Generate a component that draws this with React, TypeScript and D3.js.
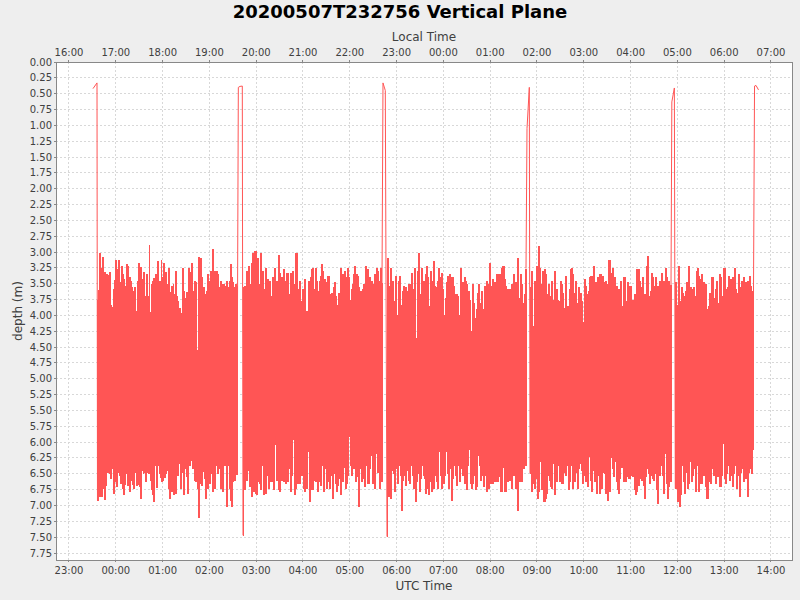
import React from 'react';
import * as d3 from 'd3';

// 화면 배치
const W = 800;
const H = 600;
const PLOT = { left: 56, top: 62, right: 792, bottom: 560 };

const TITLE = '20200507T232756 Vertical Plane';
const TIME_DOMAIN = ['2020-05-07T22:43:20Z', '2020-05-08T14:26:56Z'];
const DEPTH_MAX = 7.86;
const LOCAL_OFFSET_HOURS = -7;

// 수면 부상 구간 (시간, 수심)
const surface1: [string, number][] = [['2020-05-07T23:30:46Z', 0.42], ['2020-05-07T23:35:54Z', 0.33]];
const surface2: [string, number][] = [['2020-05-08T02:37:06Z', 0.4], ['2020-05-08T02:39:14Z', 0.385], ['2020-05-08T02:42:11Z', 0.38]];
const surface3: [string, number][] = [['2020-05-08T05:42:34Z', 0.33], ['2020-05-08T05:45:31Z', 0.45]];
const surface4: [string, number][] = [['2020-05-08T08:47:12Z', 1.05], ['2020-05-08T08:50:10Z', 0.4]];
const surface5: [string, number][] = [['2020-05-08T11:52:53Z', 0.63], ['2020-05-08T11:56:07Z', 0.41]];
const surface6: [string, number][] = [['2020-05-08T13:38:54Z', 0.38], ['2020-05-08T13:40:48Z', 0.37], ['2020-05-08T13:44:00Z', 0.44]];

// 잠수 구간 시작/끝
const diveStart = ['2020-05-07T23:36:30Z', '2020-05-08T02:43:05Z', '2020-05-08T05:47:42Z', '2020-05-08T08:51:02Z', '2020-05-08T11:57:18Z'];
const diveEnd = ['2020-05-08T02:36:02Z', '2020-05-08T05:41:17Z', '2020-05-08T08:45:55Z', '2020-05-08T11:51:49Z', '2020-05-08T13:37:36Z'];

// 각 잠수 사이클의 최저점(깊은 쪽)과 최고점(얕은 쪽)
const dive1Bottoms = [6.92,6.75,6.86,6.44,6.86,6.54,6.73,6.90,6.68,6.48,5.78,6.49,6.57,6.41,6.03,6.81,6.54,6.62,6.70,6.48,6.52,6.65,6.48,6.73,6.83,6.67,5.53,6.49,6.68,6.41,6.77,6.60,6.67,6.73,6.47,5.97,6.68,6.67,6.35,6.69,6.89,6.44,6.49,6.48,6.62,6.48,6.39,6.49,6.36,6.60,6.74,6.83,6.94,6.36,6.72,6.31,6.36,6.49,6.56,6.61,6.60,6.36,6.56,6.49,6.44,6.73,6.89,6.65,6.78,6.31,6.82,5.99,6.81,6.40,6.52,6.33,6.73,6.47,6.33,6.82,6.36,6.41,6.54,6.81,6.31,6.36,6.28,6.41,6.28,6.60,6.62,6.04,6.73,7.18,6.65,6.49,6.68,6.46,6.57,6.88,6.36,6.73,6.41,6.65,6.49,6.18,6.78,6.15,6.73,6.36,6.49,6.31,6.41,6.73,6.09,6.78,6.36,5.91,6.36,7.02,6.36,6.73,6.92,7.02,6.62,6.44,6.60,6.33,6.51,6.24];
const dive1Tops = [3.77,3.61,3.03,3.26,3.09,3.36,3.32,3.77,3.35,3.68,3.37,3.32,3.85,3.88,3.60,3.45,3.13,3.44,3.28,3.14,3.49,3.63,3.23,3.36,3.44,3.55,3.20,3.23,3.78,3.40,3.47,3.57,3.86,3.63,3.57,3.94,3.47,3.18,3.60,3.25,3.55,3.44,3.32,3.70,3.72,3.36,3.70,2.90,3.95,3.52,3.47,3.42,3.44,3.36,3.56,3.15,3.70,3.47,3.13,3.40,3.19,3.57,3.32,3.68,3.52,3.26,3.85,3.64,3.55,3.51,3.68,3.31,3.70,3.78,4.00,3.89,4.34,3.98,3.26,3.63,3.73,3.64,3.65,3.26,3.73,3.32,3.19,3.63,3.94,3.47,3.49,4.55,3.09,3.47,3.10,3.41,3.60,3.57,3.68,3.76,3.63,3.35,3.47,3.31,3.60,2.97,3.86,3.31,3.84,3.31,3.36,3.57,3.60,3.47,3.52,3.52,3.55,3.57,3.47,3.57,3.73,3.47,3.20,3.40,3.49,3.57,3.52,3.55,3.86];

const dive2Bottoms = [7.47,6.75,6.33,6.60,6.44,6.70,6.47,6.86,6.78,6.36,6.81,6.83,6.62,6.65,6.75,6.36,6.82,6.65,6.81,6.52,6.73,6.33,6.62,6.44,6.75,6.04,6.60,6.52,6.75,6.78,6.60,6.35,6.62,6.65,6.61,6.62,6.41,6.78,6.52,5.95,6.83,6.73,6.52,6.65,6.65,5.39,6.52,6.73,6.78,6.62,6.73,6.15,6.94,6.49,6.75,6.60,6.47,6.61,6.78,6.20,6.62,6.68,6.37,6.78,6.41,6.73,6.62,6.47,6.73,6.52,6.89,6.49,6.65,6.78,6.68,6.57,6.83,6.36,6.62,6.39,6.73,6.65,6.52,5.91,6.36,6.52,6.41,6.36,6.61,6.54,7.02,6.36,6.41,6.62,6.57,6.70,6.36,6.65,6.65,6.41,6.20,6.65,6.36,6.73,6.18,6.47,6.33,6.73,6.62];
const dive2Tops = [3.57,3.55,3.31,3.78,3.23,3.52,3.19,3.02,3.36,2.99,3.32,3.11,3.52,3.02,3.49,3.31,3.60,3.26,3.47,3.44,3.47,3.81,3.70,3.41,3.26,3.55,3.47,3.06,3.34,3.84,3.41,3.28,3.47,3.52,3.34,3.81,3.67,3.34,3.31,3.94,3.52,3.02,3.60,3.60,3.47,3.78,3.60,3.78,3.44,3.94,4.44,3.47,3.41,3.28,3.26,3.60,3.26,3.47,3.63,3.47,3.39,3.20,3.31,3.44,3.49,3.97,3.39,3.68,3.70,3.65,3.57,3.49,3.70,3.84,3.65,3.97,3.26,3.36,3.89,3.31,3.41,3.26,3.41,3.76,3.60,3.52,3.36,3.23,3.36,3.39,3.57,3.63,3.63,3.60,3.52,3.23,3.68,3.28,3.41,4.12,3.47,3.52,3.36,3.63,3.26,3.31,3.47,3.26,3.49];

const dive3Bottoms = [7.49,6.86,6.68,6.89,6.44,6.49,6.78,6.41,6.65,6.36,6.52,7.07,6.60,6.52,6.68,6.44,6.60,6.65,6.36,6.52,6.73,6.94,6.62,6.49,6.78,6.57,6.36,6.52,6.57,6.81,6.73,6.83,6.62,6.78,6.39,6.73,6.52,6.62,6.73,6.15,6.52,6.73,6.65,6.52,6.15,6.49,6.73,6.41,6.91,6.57,6.36,6.52,6.68,6.36,6.62,6.41,6.52,6.44,6.65,6.75,6.36,6.12,6.65,6.73,6.65,6.52,6.75,6.70,6.20,6.36,6.60,6.52,6.70,6.52,6.78,6.57,6.73,6.65,6.41,6.65,6.62,6.47,6.62,6.54,6.44,6.78,6.39,6.04,6.78,6.52,6.62,6.60,6.47,6.73,6.52,6.36,6.73,7.07,6.52,6.62,6.62,6.41,6.41,6.36];
const dive3Tops = [3.10,3.55,3.26,3.60,3.47,3.78,3.39,4.00,3.47,3.39,3.84,3.63,3.55,3.57,3.94,3.63,3.52,3.91,3.34,3.60,3.26,4.36,3.31,3.02,3.68,3.26,3.78,3.47,3.36,3.23,3.41,3.86,3.31,3.47,3.15,3.55,3.57,3.47,3.26,3.41,3.34,3.60,4.00,3.73,3.49,3.39,3.36,3.52,3.41,3.55,3.97,3.68,3.70,4.00,3.26,3.52,3.49,3.41,3.47,3.52,3.63,3.76,4.26,3.52,3.81,4.05,3.91,3.65,3.52,3.81,3.63,3.91,3.55,3.70,3.47,3.52,3.18,3.55,3.44,3.63,3.49,3.36,3.73,3.36,3.57,3.26,3.23,3.44,3.55,3.60,4.00,3.60,3.52,3.60,3.36,3.49,3.81,3.10,3.73,3.36,3.52,3.81,3.68,3.26,3.68];

const dive4Bottoms = [6.49,6.78,6.65,6.52,6.73,6.57,6.89,6.78,6.31,6.75,6.62,6.94,6.89,6.81,6.52,6.60,6.70,6.73,6.33,6.83,6.49,6.62,6.36,6.62,6.52,6.65,6.47,6.20,6.52,6.36,6.75,6.62,6.36,6.73,6.41,6.62,6.47,6.73,6.41,6.33,6.44,6.65,6.52,6.62,6.57,6.70,6.23,6.60,6.78,6.44,6.62,6.49,6.81,6.52,6.81,6.49,6.73,6.47,6.49,6.81,6.91,6.33,6.78,6.24,6.41,6.54,6.31,6.62,6.75,6.81,6.57,6.39,6.26,6.62,6.62,5.99,6.54,6.57,6.31,6.52,6.54,6.75,6.83,6.78,6.68,6.57,6.41,6.60,6.68,6.89,6.54,6.41,6.49,6.65,6.52,6.57,6.60,6.49,6.75,6.97,6.47,6.52,6.36,6.52,6.81,6.18,6.65,6.89,6.70,6.62];
const dive4Tops = [3.57,3.31,4.18,3.47,3.52,3.23,2.91,3.26,3.52,3.31,3.47,3.28,3.36,3.68,3.52,3.70,3.47,3.78,3.76,3.31,3.60,3.76,3.78,3.47,3.52,3.65,3.89,3.39,4.65,3.86,3.60,3.28,3.26,3.36,3.65,3.47,3.81,3.57,3.65,3.65,3.78,4.12,3.44,3.55,3.68,3.63,3.40,3.39,3.52,3.23,3.49,3.49,3.41,3.68,3.36,3.55,3.39,3.49,3.47,3.63,3.52,3.13,3.34,3.81,3.26,3.41,3.65,3.55,3.60,3.65,3.47,3.86,3.40,3.41,3.78,3.49,3.55,4.00,3.55,3.76,4.12,3.68,3.28,3.57,3.28,3.47,3.57,3.41,3.68,3.68,3.23,3.07,3.70,3.63,3.34,3.41,3.55,3.41,3.91,3.55,3.47,3.49,3.34,3.47,3.70,3.26,3.41,3.47,3.70,3.52];

const dive5Bottoms = [6.73,6.24,6.94,7.02,6.83,6.36,6.62,6.81,6.47,6.73,6.65,6.31,6.62,6.52,6.41,6.78,6.36,6.78,6.41,6.65,6.15,6.52,6.70,6.89,6.89,6.62,6.65,6.41,6.52,6.44,6.65,6.54,6.41,6.70,6.52,6.02,6.57,6.65,6.49,6.36,6.60,6.52,6.70,6.49,6.36,6.73,6.52,6.86,6.47,6.41,6.62,6.26,6.57,6.86,6.47,6.41,6.49,6.12];
const dive5Tops = [3.49,3.84,3.23,3.78,3.57,3.65,3.70,3.63,3.49,3.23,4.00,3.57,3.60,3.57,3.70,3.31,3.26,3.39,3.44,3.36,3.49,3.65,3.52,3.91,3.86,3.65,3.41,3.41,3.73,3.60,3.47,3.81,3.36,3.41,3.70,3.26,3.26,3.60,3.57,3.39,3.44,4.18,3.41,3.26,3.60,3.65,3.36,3.57,3.47,3.81,3.41,3.49,3.49,3.47,3.39,3.55,3.63,3.52];

const diveBottoms = [dive1Bottoms, dive2Bottoms, dive3Bottoms, dive4Bottoms, dive5Bottoms];
const diveTops = [dive1Tops, dive2Tops, dive3Tops, dive4Tops, dive5Tops];
const surfaces = [surface1, surface2, surface3, surface4, surface5, surface6];

const LINE_COLOR = '#ff5555';
const FONT = '"DejaVu Sans", Verdana, sans-serif';

type Pt = [number, number];

// 잠수 구간: 깊은 점, 얕은 점을 번갈아 배치
const divePoints = (k: number): Pt[] => {
  const bots = diveBottoms[k];
  const tops = diveTops[k];
  const n = Math.min(bots.length, tops.length);
  const t0 = +new Date(diveStart[k]);
  const t1 = +new Date(diveEnd[k]);
  const step = (t1 - t0) / (2 * n - 1);
  const pts: Pt[] = [];
  for (let i = 0; i < n; i++) {
    pts.push([t0 + 2 * i * step, bots[i]]);
    pts.push([t0 + (2 * i + 1) * step, tops[i]]);
  }
  return pts;
};

export default function App() {
  const x = d3
    .scaleUtc()
    .domain(TIME_DOMAIN.map((d) => new Date(d)))
    .range([PLOT.left, PLOT.right]);
  const y = d3.scaleLinear().domain([0, DEPTH_MAX]).range([PLOT.top, PLOT.bottom]);

  const hourTicks = x.ticks(d3.utcHour.every(1) as d3.TimeInterval);
  const depthTicks = d3.range(0, 7.76, 0.25);
  const fmt = d3.utcFormat('%H:%M');
  const localFmt = (d: Date) => fmt(new Date(+d + LOCAL_OFFSET_HOURS * 3600e3));

  const dives = diveStart.map((_, k) => divePoints(k));

  // 수면 부상 연결선 (잠수 구간 끝점 포함)
  const connectors: Pt[][] = surfaces.map((s, k) => {
    const pts: Pt[] = s.map(([t, d]) => [+new Date(t), d] as Pt);
    const prev = k > 0 ? dives[k - 1][dives[k - 1].length - 1] : null;
    const next = k < dives.length ? dives[k][0] : null;
    return [...(prev ? [prev] : []), ...pts, ...(next ? [next] : [])];
  });

  const linear = d3
    .line<Pt>()
    .x((d) => x(d[0]))
    .y((d) => y(d[1]));
  const stepped = d3
    .line<Pt>()
    .x((d) => x(d[0]))
    .y((d) => y(d[1]))
    .curve(d3.curveStepAfter);

  const cx = (PLOT.left + PLOT.right) / 2;
  const cy = (PLOT.top + PLOT.bottom) / 2;

  return (
    <div style={{ position: 'absolute', left: 0, top: 0 }}>
      <svg width={W} height={H} style={{ display: 'block', fontFamily: FONT }}>
        <rect width={W} height={H} fill="#eeeeee" />
        <rect
          x={PLOT.left}
          y={PLOT.top}
          width={PLOT.right - PLOT.left}
          height={PLOT.bottom - PLOT.top}
          fill="#ffffff"
        />

        {/* 격자 */}
        <g stroke="#d8d8d8" strokeWidth={1} strokeDasharray="2,2" shapeRendering="crispEdges">
          {hourTicks.map((t) => (
            <line key={+t} x1={x(t)} x2={x(t)} y1={PLOT.top} y2={PLOT.bottom} />
          ))}
          {depthTicks.map((d) => (
            <line key={d} x1={PLOT.left} x2={PLOT.right} y1={y(d)} y2={y(d)} />
          ))}
        </g>

        {/* 수심 데이터 */}
        <g fill="none" stroke={LINE_COLOR}>
          {connectors.map((c, i) => (
            <path key={`c${i}`} d={linear(c) as string} strokeWidth={1} />
          ))}
          {dives.map((p, i) => (
            <path key={`d${i}`} d={stepped(p) as string} strokeWidth={1.4} shapeRendering="crispEdges" />
          ))}
        </g>

        {/* 외곽선 */}
        <rect
          x={PLOT.left}
          y={PLOT.top}
          width={PLOT.right - PLOT.left}
          height={PLOT.bottom - PLOT.top}
          fill="none"
          stroke="#888888"
          shapeRendering="crispEdges"
        />

        {/* 하단 축 (UTC) */}
        <g fontSize={10} fill="#404040" textAnchor="middle">
          {hourTicks.map((t) => (
            <g key={+t}>
              <line x1={x(t)} x2={x(t)} y1={PLOT.bottom} y2={PLOT.bottom + 2} stroke="#888888" shapeRendering="crispEdges" />
              <text x={x(t)} y={PLOT.bottom + 14}>
                {fmt(t)}
              </text>
            </g>
          ))}
        </g>
        <text x={cx} y={590} textAnchor="middle" fontSize={12} fill="#404040">
          UTC Time
        </text>

        {/* 상단 축 (현지 시각) */}
        <g fontSize={10} fill="#404040" textAnchor="middle">
          {hourTicks.map((t) => (
            <g key={+t}>
              <line x1={x(t)} x2={x(t)} y1={PLOT.top - 2} y2={PLOT.top} stroke="#888888" shapeRendering="crispEdges" />
              <text x={x(t)} y={PLOT.top - 6}>
                {localFmt(t)}
              </text>
            </g>
          ))}
        </g>
        <text x={cx} y={41} textAnchor="middle" fontSize={12} fill="#404040">
          Local Time
        </text>

        {/* 수심 축 */}
        <g fontSize={10} fill="#404040" textAnchor="end">
          {depthTicks.map((d) => (
            <g key={d}>
              <line x1={PLOT.left - 2} x2={PLOT.left} y1={y(d)} y2={y(d)} stroke="#888888" shapeRendering="crispEdges" />
              <text x={PLOT.left - 4} y={y(d)} dy="0.35em">
                {d.toFixed(2)}
              </text>
            </g>
          ))}
        </g>
        <text
          transform={`translate(22, ${cy}) rotate(-90)`}
          textAnchor="middle"
          fontSize={12}
          fill="#404040">
          depth (m)
        </text>

        {/* 제목 */}
        <text x={W / 2} y={18} textAnchor="middle" fontSize={18} fontWeight="bold" fill="#000000">
          {TITLE}
        </text>
      </svg>
    </div>
  );
}
